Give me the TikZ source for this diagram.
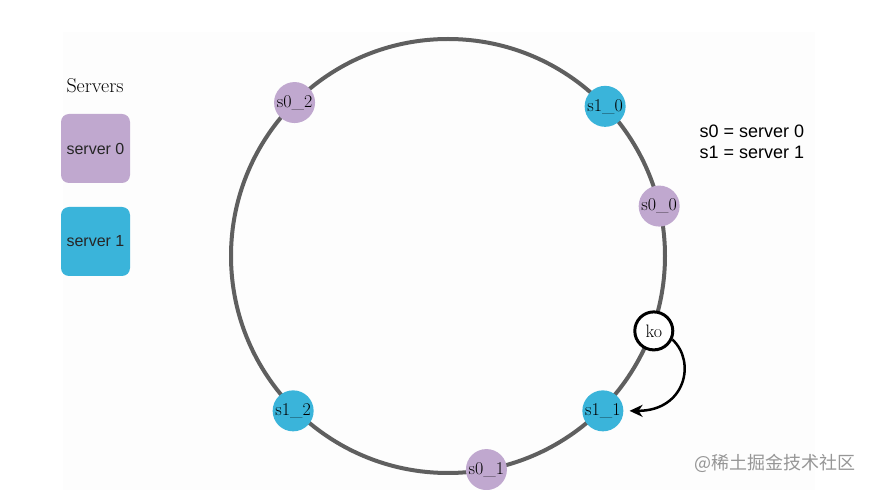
\documentclass[tikz,border=0pt]{standalone}
\usepackage{fontspec}
\newfontfamily\arialfont{Liberation Sans}
\newfontfamily\cjk{Noto Sans CJK SC}
\usetikzlibrary{calc,arrows.meta}
\definecolor{ringgray}{RGB}{95,95,95}
\definecolor{purplesrv}{RGB}{192,168,207}
\definecolor{bluesrv}{RGB}{58,180,218}
\definecolor{wmgray}{RGB}{150,150,150}
\definecolor{bggray}{RGB}{253,253,253}

\begin{document}
\begin{tikzpicture}[x=1pt,y=1pt,
  vnode/.style={circle, minimum size=41pt, inner sep=0pt, font=\fontsize{18}{18}\selectfont},
  s0node/.style={vnode, fill=purplesrv},
  s1node/.style={vnode, fill=bluesrv},
  srvbox/.style={rounded corners=8pt, minimum size=69pt, inner sep=0pt,
    text=black!85, font=\arialfont\fontsize{16}{18}\selectfont}]
  \useasboundingbox (0,0) rectangle (871,490);
  % faint backdrop
  \fill[bggray] (63,0) rectangle (815,458);
  % Legend on the left
  \node[font=\fontsize{20}{20}\selectfont] (title) at (95,404) {Servers};
  \node[srvbox, fill=purplesrv] (srv0) at (95.5,341.5) {server 0};
  \node[srvbox, fill=bluesrv]   (srv1) at (95.5,248.5) {server 1};
  % Hash ring, centre (C), radius 217
  \coordinate (C) at (448,234);
  \draw[ringgray, line width=4pt] (C) circle (217);
  % Virtual nodes on the ring
  \node[s0node] (s02) at ($(C)+(135:217)$)   {s0\_2};
  \node[s1node] (s10) at ($(C)+(43.6:217)$)  {s1\_0};
  \node[s0node] (s00) at ($(C)+(13.3:217)$)  {s0\_0};
  \node[s1node] (s11) at ($(C)+(-45:219)$)   {s1\_1};
  \node[s1node] (s12) at ($(C)+(-135:219)$)  {s1\_2};
  \node[s0node] (s01) at ($(C)+(-79.8:217)$) {s0\_1};
  % Key on the ring
  \node[circle, draw, line width=3pt, fill=white, minimum size=38pt, inner sep=0pt,
    font=\fontsize{18}{18}\selectfont] (ko) at ($(C)+(-20:219)$) {ko};
  \draw[line width=2.5pt, -{Stealth[length=13pt,width=12pt,inset=4pt]}, shorten >=6pt]
    (ko.-25) .. controls +(24,-22) and +(62,0) .. (s11.east);
  % Notes
  \node[align=left, anchor=west, font=\arialfont\fontsize{18}{21}\selectfont]
    (notes) at (696,348.5) {s0 = server 0\\s1 = server 1};
  \node[anchor=west, text=wmgray, font=\cjk\fontsize{18}{18}\selectfont]
    (wm) at (691,27) {@稀土掘金技术社区};
\end{tikzpicture}
\end{document}
